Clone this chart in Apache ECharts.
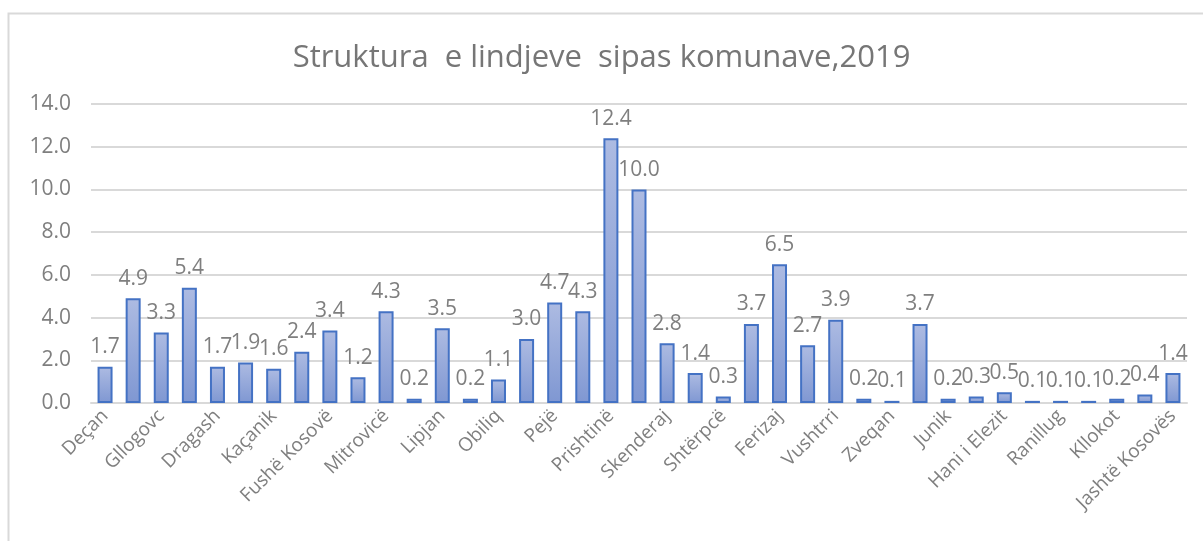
<!DOCTYPE html>
<html>
<head>
<meta charset="utf-8">
<script src="https://cdn.jsdelivr.net/npm/echarts@6/dist/echarts.min.js"></script>
<style>
	html,body{margin:0;padding:0;background:#fff;}
	#chart{width:1203px;height:541px;}
</style>
</head>
<body>
<div id="chart"></div>
<script>
// komunat (vetem cdo e dyta shfaqet ne bosht, si ne Excel)
var komunat = ['Deçan','Gjakovë','Gllogovc','Gjilan','Dragash','Istog','Kaçanik','Klinë','Fushë Kosovë','Kamenicë',
	'Mitrovicë','Leposaviq','Lipjan','Novobërdë','Obiliq','Rahovec','Pejë','Podujevë','Prishtinë','Prizren',
	'Skenderaj','Shtime','Shtërpcë','Suharekë','Ferizaj','Viti','Vushtrri','Zubin Potok','Zveqan','Malishevë',
	'Junik','Mamushë','Hani i Elezit','Graçanicë','Ranillug','Partesh','Kllokot','Mitrovicë e Veriut','Jashtë Kosovës'];
var lindjet = [1.7,4.9,3.3,5.4,1.7,1.9,1.6,2.4,3.4,1.2,
	4.3,0.2,3.5,0.2,1.1,3.0,4.7,4.3,12.4,10.0,
	2.8,1.4,0.3,3.7,6.5,2.7,3.9,0.2,0.1,3.7,
	0.2,0.3,0.5,0.1,0.1,0.1,0.2,0.4,1.4];
var titulli = 'Struktura  e lindjeve  sipas komunave,2019';

var font = '"Open Sans", "Noto Sans", sans-serif';
var myChart = echarts.init(document.getElementById('chart'));
var option = {
	animation:false,
	title:{
		text:titulli,
		left:'center',
		top:38,
		textStyle:{
			fontSize:31,
			fontWeight:'normal',
			color:'#767676',
			fontFamily:font
		}
	},
	graphic:[{
		type:'rect',
		shape:{x:8.5,y:13.5,width:1220,height:560},
		style:{fill:'none',stroke:'#d9d9d9',lineWidth:2},
		silent:true
	}],
	grid:{left:91,right:16,top:104,bottom:138},
	xAxis:{
		type:'category',
		data:komunat,
		axisLine:{lineStyle:{color:'#d9d9d9',width:2}},
		axisTick:{show:false},
		axisLabel:{
			interval:1,
			rotate:45,
			margin:10,
			color:'#7f7f7f',
			fontSize:19,
			fontFamily:font
		}
	},
	yAxis:{
		type:'value',
		min:0,
		max:14,
		interval:2,
		axisLine:{show:false},
		axisTick:{show:false},
		axisLabel:{
			margin:20,
			color:'#7f7f7f',
			fontSize:21,
			fontFamily:font,
			formatter:function(v){return v.toFixed(1);}
		},
		splitLine:{lineStyle:{color:'#d9d9d9',width:2}}
	},
	series:[{
		type:'bar',
		data:lindjet,
		barWidth:15,
		itemStyle:{
			color:new echarts.graphic.LinearGradient(0,0,0,1,[
				{offset:0,color:'#adbbe2'},
				{offset:1,color:'#7f97d2'}
			]),
			borderColor:'#4472c4',
			borderWidth:2
		},
		label:{
			show:true,
			position:'top',
			distance:9,
			color:'#7f7f7f',
			fontSize:21,
			fontFamily:font,
			formatter:function(p){return p.value.toFixed(1);}
		}
	}]
};
myChart.setOption(option);
</script>
</body>
</html>
